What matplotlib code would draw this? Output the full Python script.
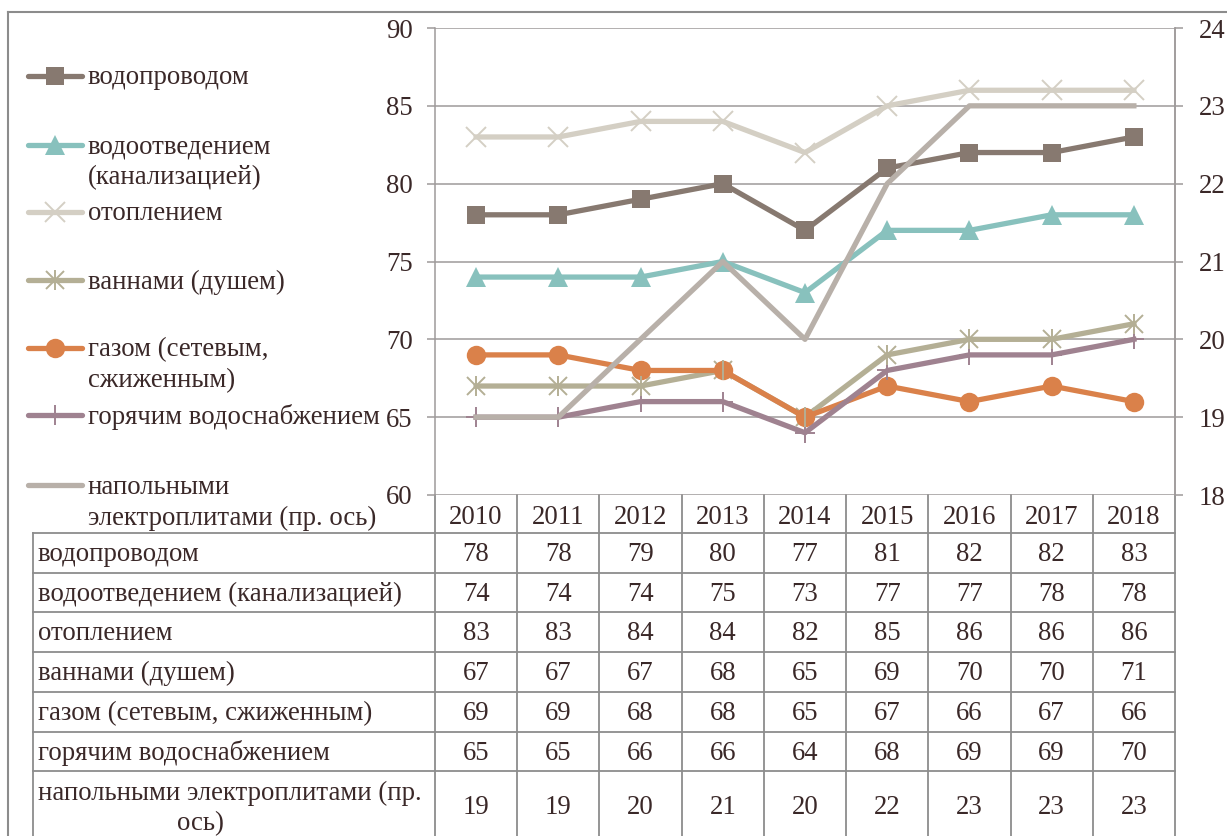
import matplotlib
matplotlib.use("Agg")
import matplotlib.pyplot as plt
from matplotlib.lines import Line2D

plt.rcParams['font.family'] = 'serif'
plt.rcParams['font.serif'] = ['Liberation Serif', 'DejaVu Serif']

# data
years = [2010, 2011, 2012, 2013, 2014, 2015, 2016, 2017, 2018]
vodoprovod = [78, 78, 79, 80, 77, 81, 82, 82, 83]
vodootved = [74, 74, 74, 75, 73, 77, 77, 78, 78]
otoplenie = [83, 83, 84, 84, 82, 85, 86, 86, 86]
vanny = [67, 67, 67, 68, 65, 69, 70, 70, 71]
gaz = [69, 69, 68, 68, 65, 67, 66, 67, 66]
gor_voda = [65, 65, 66, 66, 64, 68, 69, 69, 70]
elektroplity = [19, 19, 20, 21, 20, 22, 23, 23, 23]  # right axis

legend_labels = ["водопроводом", "водоотведением\n(канализацией)", "отоплением",
                 "ваннами (душем)", "газом (сетевым,\nсжиженным)", "горячим водоснабжением",
                 "напольными\nэлектроплитами (пр. ось)"]
table_labels = ["водопроводом", "водоотведением (канализацией)", "отоплением",
                "ваннами (душем)", "газом (сетевым, сжиженным)", "горячим водоснабжением",
                "напольными электроплитами (пр.\nось)"]

left_series = [vodoprovod, vodootved, otoplenie, vanny, gaz, gor_voda]
styles = [
    dict(color="#877970", marker="s", ms=13.5, mew=0),
    dict(color="#88C1BD", marker="^", ms=14.5, mew=0),
    dict(color="#D4CFC4", marker="x", ms=14, mew=1.4),
    dict(color="#B4AF95", marker="x", ms=13, mew=1.4),
    dict(color="#DA814A", marker="o", ms=14, mew=0),
    dict(color="#9F8290", marker="+", ms=15, mew=1.4),
]
el_color = "#B8B0A9"
txt = "#3A2828"
grid_c = "#9E9A9A"
fs = 19.3
dy = 2  # text baseline nudge in px

W, H = 1227, 836
fig = plt.figure(figsize=(W / 100, H / 100), dpi=100)

# overlay in pixel coordinates for frame, legend and table
ov = fig.add_axes([0, 0, 1, 1], zorder=-1)
ov.set_xlim(0, W)
ov.set_ylim(H, 0)
ov.axis("off")

x0, x1, y_top, y_bot = 435, 1175, 28, 495
ax = fig.add_axes([x0 / W, 1 - y_bot / H, (x1 - x0) / W, (y_bot - y_top) / H])
ax.set_facecolor("none")
xs = list(range(len(years)))

for vals, st in zip(left_series, styles):
    ax.plot(xs, vals, lw=3.8, solid_joinstyle="round", color=st["color"], marker=st["marker"],
            ms=st["ms"], mew=st["mew"], mec=st["color"], mfc=st["color"])
# asterisk for "ваннами": add vertical bar
ax.plot(xs, vanny, ls="none", marker="|", ms=15, mew=1.4, color=styles[3]["color"])

ax.set_xlim(-0.5, len(years) - 0.5)
ax.set_ylim(60, 90)
ax.set_yticks(range(60, 91, 5))
ax.yaxis.grid(True, color=grid_c, lw=1.1)
ax.set_axisbelow(True)
ax.set_xticks([])
for s in ["top", "bottom"]:
    ax.spines[s].set_visible(False)
for s in ["left", "right"]:
    ax.spines[s].set_color(grid_c)
    ax.spines[s].set_linewidth(1.1)
ax.tick_params(axis="y", length=6, width=1.1, color=grid_c, labelsize=fs, labelcolor=txt, pad=10)

ax2 = ax.twinx()
ax2.plot(xs, elektroplity, lw=3.8, color=el_color, solid_joinstyle="round")
ax2.set_ylim(18, 24)
ax2.set_yticks(range(18, 25))
ax2.set_xlim(-0.5, len(years) - 0.5)
for s in ["top", "bottom", "left"]:
    ax2.spines[s].set_visible(False)
ax2.spines["right"].set_color(grid_c)
ax2.spines["right"].set_linewidth(1.1)
ax2.tick_params(axis="y", length=6, width=1.1, color=grid_c, labelsize=fs, labelcolor=txt, pad=11)

# outer frame
ov.plot([8, 8], [12, H], color="#8C8C8C", lw=1.5)
ov.plot([8, W], [12, 12], color="#8C8C8C", lw=1.5)

# legend
leg_y = [76, 145, 212, 280, 348, 415, 485]
handles = styles + [dict(color=el_color, marker=None, ms=0, mew=0)]
for i, (lab, st, y) in enumerate(zip(legend_labels, handles, leg_y)):
    ov.add_line(Line2D([28, 82], [y, y], lw=3.8, color=st["color"], solid_capstyle="round"))
    if st["marker"]:
        ov.add_line(Line2D([55], [y], marker=st["marker"], ms=st["ms"], mew=st["mew"],
                           color=st["color"], mec=st["color"], mfc=st["color"]))
    if i == 3:
        ov.add_line(Line2D([55], [y], marker="|", ms=15, mew=1.4, color=st["color"]))
    for k, line in enumerate(lab.split("\n")):
        ov.text(88, y + 31 * k + dy, line, fontsize=fs, color=txt, va="center", ha="left")

# data table
col_w = (x1 - x0) / len(years)
row_tops = [533 + 39.7 * k for k in range(7)]
lc = "#8C8C8C"
ov.plot([x0, x0], [y_bot, H], color=lc, lw=1.3)
for j in range(1, len(years) + 1):
    ov.plot([x0 + j * col_w] * 2, [y_bot, H], color=lc, lw=1.3)
ov.plot([33, 33], [533, H], color=lc, lw=1.3)
for yt in row_tops:
    ov.plot([33, x1], [yt, yt], color=lc, lw=1.3)
for j, yr in enumerate(years):
    ov.text(x0 + (j + 0.5) * col_w, (y_bot + 533) / 2 + 1 + dy, str(yr), fontsize=fs, color=txt,
            ha="center", va="center")

all_series = left_series + [elektroplity]
for r, (lab, vals) in enumerate(zip(table_labels, all_series)):
    if r < 6:
        yc = row_tops[r] + 19.5 + dy
        ov.text(38, yc, lab, fontsize=fs, color=txt, ha="left", va="center")
    else:
        yc = 806 + dy
        l1, l2 = lab.split("\n")
        ov.text(38, 791 + dy, l1, fontsize=fs, color=txt, ha="left", va="center")
        ov.text(200, 822 + dy, l2, fontsize=fs, color=txt, ha="center", va="center")
    for j, v in enumerate(vals):
        ov.text(x0 + (j + 0.5) * col_w, yc, str(v), fontsize=fs, color=txt,
                ha="center", va="center")

fig.savefig("out.png", dpi=100)
